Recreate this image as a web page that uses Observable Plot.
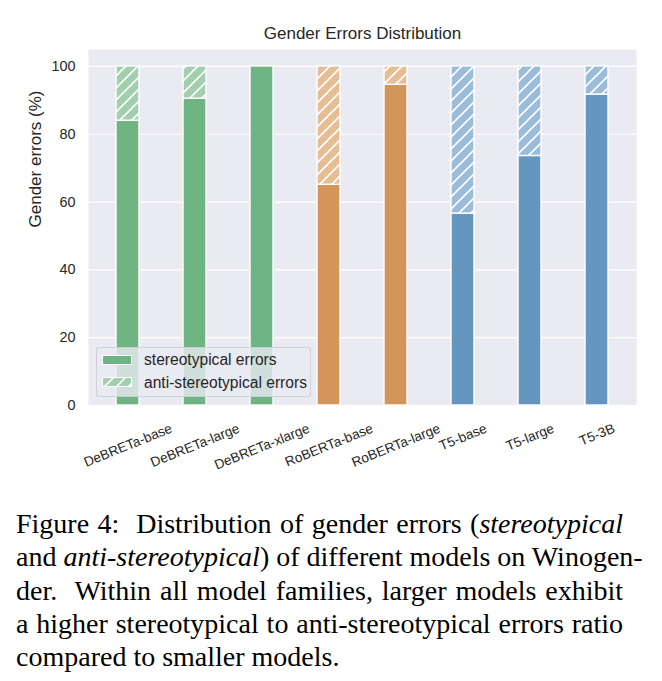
<!DOCTYPE html>
<html>
<head>
<meta charset="utf-8">
<script src="https://cdn.jsdelivr.net/npm/d3@7"></script>
<script src="https://cdn.jsdelivr.net/npm/@observablehq/plot@0.6"></script>
<style>
html, body { margin: 0; padding: 0; background: #fff; overflow: hidden; }
#wrap { position: relative; width: 662px; height: 681px; }
#chart { position: absolute; left: 0; top: 0; }
#legend { position: absolute; left: 96px; top: 347px; width: 213px; height: 48px;
  background: rgba(234,234,242,0.8); border: 1px solid rgba(204,204,204,0.8); border-radius: 3px;
  font: 15.6px "Liberation Sans", Arial, sans-serif; color: #262626; }
#legend .patch { position: absolute; left: 5px; width: 30px; height: 10px; }
#legend .lab { position: absolute; left: 47px; line-height: 18px; white-space: nowrap; }
#caption { position: absolute; left: 16px; top: 507px; width: 607px;
  font-family: "Liberation Serif", "Times New Roman", serif; font-size: 28px; line-height: 33.3px; color: #000; }
#caption .j { text-align: justify; text-align-last: justify; white-space: nowrap; }
#caption .l { text-align: left; white-space: nowrap; }
</style>
</head>
<body>
<div id="wrap">
  <div id="chart"></div>
  <div id="legend"></div>
  <div id="caption">
    <div class="j">Figure 4:&nbsp; Distribution of gender errors (<i>stereotypical</i></div>
    <div class="j">and <i>anti-stereotypical</i>) of different models on Winogen-</div>
    <div class="j">der.&nbsp; Within all model families, larger models exhibit</div>
    <div class="j">a higher stereotypical to anti-stereotypical errors ratio</div>
    <div class="l">compared to smaller models.</div>
  </div>
</div>
<script>
// ---- data ----
const models = ["DeBRETa-base", "DeBRETa-large", "DeBRETa-xlarge", "RoBERTa-base", "RoBERTa-large", "T5-base", "T5-large", "T5-3B"];
const families = ["DeBRETa", "DeBRETa", "DeBRETa", "RoBERTa", "RoBERTa", "T5", "T5", "T5"];
const stereotypical = [84.0, 90.5, 100.0, 65.1, 94.6, 56.6, 73.6, 91.7];
const antiStereotypical = [16.0, 9.5, 0.0, 34.9, 5.4, 43.4, 26.4, 8.3];
const yTicks = [0, 20, 40, 60, 80, 100];
const title = "Gender Errors Distribution";
const yLabel = "Gender errors (%)";
const seriesLabels = ["stereotypical errors", "anti-stereotypical errors"];

// ---- styles ----
const solidColors = {DeBRETa: "#6fb483", RoBERTa: "#d3955a", T5: "#6596c0"};
const lightColors = {DeBRETa: "#a3cfae", RoBERTa: "#e6be96", T5: "#9bbcd8"};
const FONT = '"Liberation Sans", Arial, Helvetica, sans-serif';

const rows = models.flatMap((m, i) => [
  {model: m, family: families[i], kind: "stereo", value: stereotypical[i]},
  {model: m, family: families[i], kind: "anti", value: antiStereotypical[i]}
]);

function addHatch(sel, id, bg) {
  const p = sel.append("pattern").attr("id", id).attr("patternUnits", "userSpaceOnUse")
    .attr("width", 12).attr("height", 12);
  p.append("rect").attr("width", 12).attr("height", 12).attr("fill", bg);
  p.append("path").attr("d", "M-3,3L3,-3M0,12L12,0M9,15L15,9")
    .attr("stroke", "white").attr("stroke-width", 1.6).attr("fill", "none");
}

const defsMark = () => {
  const d = d3.create("svg:defs");
  for (const f of Object.keys(lightColors)) addHatch(d, "hatch-" + f, lightColors[f]);
  return d.node();
};

// label extents for top-aligned rotated tick labels
const ctx = document.createElement("canvas").getContext("2d");
const XFS = 13.6, ROT = 22 * Math.PI / 180;
ctx.font = `${XFS}px ${FONT}`;
const boxH = m => ctx.measureText(m).width * Math.sin(ROT) + XFS * Math.cos(ROT);

const chart = Plot.plot({
  width: 662,
  height: 490,
  marginLeft: 88,
  marginRight: 26,
  marginTop: 49,
  marginBottom: 85,
  style: {fontFamily: FONT, fontSize: "14px", color: "#262626", background: "transparent", overflow: "visible"},
  x: {domain: models, paddingInner: 0.65, paddingOuter: 0.37, label: null},
  y: {domain: [0, 105], label: null},
  color: {type: "identity"},
  marks: [
    defsMark,
    Plot.frame({fill: "#eaeaf2", stroke: "none"}),
    Plot.gridY(yTicks, {stroke: "white", strokeOpacity: 1, strokeWidth: 1.2}),
    Plot.barY(rows, {
      x: "model", y: "value",
      fill: d => d.kind === "stereo" ? solidColors[d.family] : `url(#hatch-${d.family})`,
      stroke: "white", strokeWidth: 1.4
    }),
    Plot.axisY(yTicks, {tickSize: 0, tickPadding: 13, fontSize: 14.4, label: null}),
    ...models.map(m => Plot.axisX([m], {
      tickSize: 0, tickPadding: 0, tickRotate: -22, textAnchor: "middle", lineAnchor: "middle",
      dy: 16 + boxH(m) / 2, fontSize: XFS, label: null
    })),
    Plot.text([title], {frameAnchor: "top", dy: -16, fontSize: 17, lineAnchor: "middle"}),
    Plot.text([yLabel], {frameAnchor: "left", dx: -53, rotate: -90, fontSize: 17, lineAnchor: "middle"})
  ]
});
document.getElementById("chart").appendChild(chart);

// ---- legend ----
const lg = d3.select("#legend");
const fam0 = families[0];
[0, 1].forEach(i => {
  const top = i === 0 ? 7 : 29;
  const s = lg.append("svg").attr("class", "patch").style("top", top + "px")
    .attr("width", 30).attr("height", 10);
  if (i === 1) {
    addHatch(s.append("defs"), "lg-hatch", lightColors[fam0]);
  }
  s.append("rect").attr("x", 0.5).attr("y", 0.5).attr("width", 29).attr("height", 9)
    .attr("fill", i === 0 ? solidColors[fam0] : "url(#lg-hatch)")
    .attr("stroke", "white").attr("stroke-width", 1);
  lg.append("div").attr("class", "lab").style("top", (i === 0 ? 3 : 26) + "px").text(seriesLabels[i]);
});
</script>
</body>
</html>
